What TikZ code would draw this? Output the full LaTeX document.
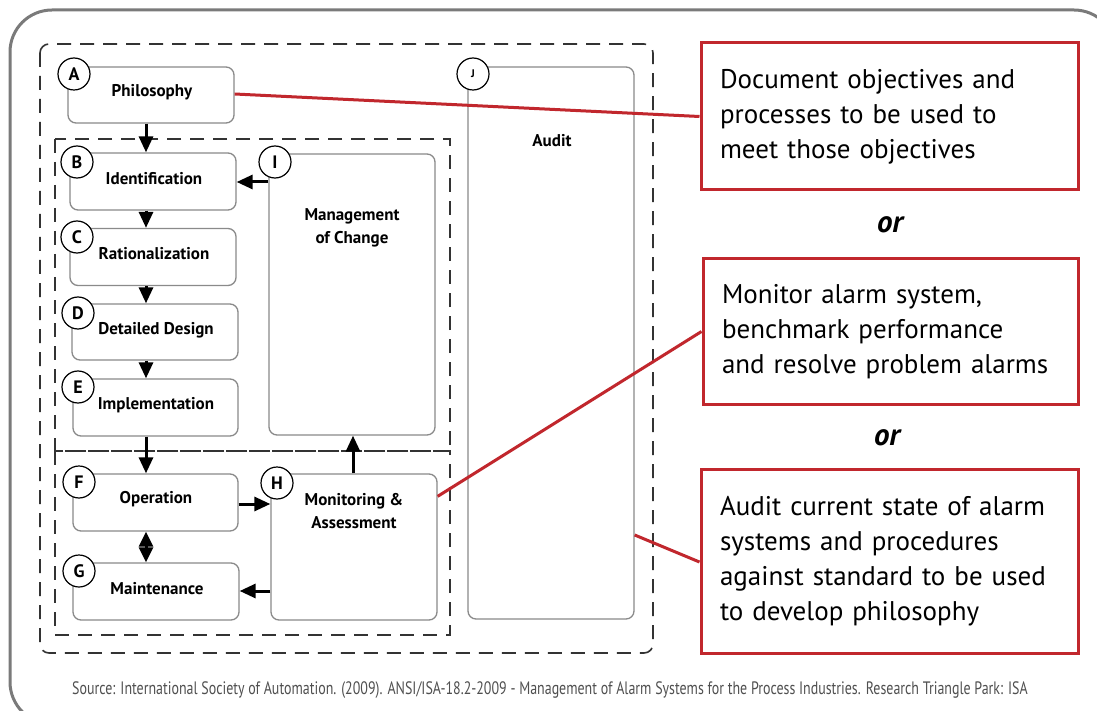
\documentclass[tikz,border=0pt]{standalone}
\usepackage{fontspec}
\usepackage{graphicx}
\setmainfont{PT Sans}
\usetikzlibrary{arrows.meta}
\definecolor{isared}{HTML}{C1272D}
\definecolor{framegray}{HTML}{7A7A7A}
\definecolor{boxgray}{HTML}{8A8A8A}
\definecolor{dashgray}{HTML}{333333}
\definecolor{srcgray}{HTML}{505050}
\tikzset{
  stage/.style={draw=boxgray, line width=1.3pt, rounded corners=8pt, fill=white, inner sep=0pt},
  lbl/.style={font=\fontsize{17}{23}\selectfont\bfseries, align=center, inner sep=0pt},
  badge/.style={circle, draw=black, line width=1.2pt, fill=white, minimum size=32pt, inner sep=0pt, font=\fontsize{18}{18}\selectfont\bfseries},
  dashbox/.style={draw=dashgray, line width=1.6pt, dash pattern=on 14pt off 9pt},
  arr/.style={line width=3pt, -{Triangle[length=16pt,width=14pt]}},
  dblarr/.style={line width=3pt, {Triangle[length=15pt,width=14pt]}-{Triangle[length=15pt,width=14pt]}},
  redbox/.style={draw=isared, line width=3pt, fill=white, inner sep=0pt, align=left, font=\fontsize{27}{35}\selectfont},
  redline/.style={draw=isared, line width=3pt},
  orlbl/.style={font=\fontsize{31}{32}\selectfont\bfseries\itshape, inner sep=0pt}
}
\begin{document}
\begin{tikzpicture}[x=1pt,y=-1pt]
\useasboundingbox (0,0) rectangle (1097,711);
\fill[white] (0,0) rectangle (1097,711);
% outer frame
\draw[framegray, line width=3pt, rounded corners=42pt] (10,10) rectangle (1116,724);
% dashed groups
\draw[dashbox, rounded corners=9pt] (40,44) rectangle (653,653);
\draw[dashbox] (55,139) rectangle (450,451);
\draw[dashbox] (55,451) rectangle (450,635);

% stage boxes
\node[stage, minimum width=166pt, minimum height=56pt] (A) at (151,95) {};
\node[stage, minimum width=166pt, minimum height=57pt] (B) at (153,181.5) {};
\node[stage, minimum width=166pt, minimum height=57pt] (C) at (153,257) {};
\node[stage, minimum width=166pt, minimum height=56pt] (D) at (155,332) {};
\node[stage, minimum width=165pt, minimum height=57pt] (E) at (155.5,407.5) {};
\node[stage, minimum width=165pt, minimum height=57pt] (F) at (155.5,502.5) {};
\node[stage, minimum width=166pt, minimum height=57pt] (G) at (156,591.5) {};
\node[stage, minimum width=166pt, minimum height=281pt] (I) at (352,294.5) {};
\node[stage, minimum width=166pt, minimum height=146pt] (H) at (354,547) {};
\node[stage, minimum width=166pt, minimum height=552pt] (J) at (551,343) {};

% labels
\node[lbl] (Al) at (152,92) {Philosophy};
\node[lbl] (Bl) at (154,179) {Identification};
\node[lbl] (Cl) at (154,254) {Rationalization};
\node[lbl] (Dl) at (156,330) {Detailed Design};
\node[lbl] (El) at (156,405) {Implementation};
\node[lbl] (Fl) at (156,499) {Operation};
\node[lbl] (Gl) at (157,589) {Maintenance};
\node[lbl] (Il) at (352,228) {Management\\of Change};
\node[lbl] (Hl) at (354,511) {Monitoring \&\\Assessment};
\node[lbl] (Jl) at (552,141) {Audit};

% badges
\node[badge] (Ab) at (74,74) {A};
\node[badge] (Bb) at (77,162) {B};
\node[badge] (Cb) at (77,237) {C};
\node[badge] (Db) at (78,313) {D};
\node[badge] (Eb) at (78,387) {E};
\node[badge] (Fb) at (79,482) {F};
\node[badge] (Gb) at (79,571) {G};
\node[badge] (Ib) at (275,162) {I};
\node[badge] (Hb) at (277,483) {H};
\node[badge, font=\fontsize{11}{12}\selectfont\bfseries] (Jb) at (473,74) {J};

% arrows
\coordinate (ax) at (146,0);
\coordinate (hx) at (353,0);
\draw[arr] (A.south -| ax) -- (B.north -| ax);
\draw[arr] (B.south -| ax) -- (C.north -| ax);
\draw[arr] (C.south -| ax) -- (D.north -| ax);
\draw[arr] (D.south -| ax) -- (E.north -| ax);
\draw[arr] (E.south -| ax) -- (F.north -| ax);
\draw[dblarr] (F.south -| ax) -- (G.north -| ax);
\coordinate (fy) at (0,504);
\coordinate (gy) at (0,591);
\coordinate (iy) at (0,182);
\draw[arr] (F.east |- fy) -- (H.west |- fy);
\draw[arr] (H.west |- gy) -- (G.east |- gy);
\draw[arr] (H.north -| hx) -- (I.south -| hx);
\draw[arr] (I.west |- iy) -- (B.east |- iy);

% red call-out boxes
\node[redbox, minimum width=377pt, minimum height=147pt, text width=339pt] (R1) at (889.5,116.5)
  {Document objectives and\\processes to be used to\\meet those objectives};
\node[redbox, minimum width=375pt, minimum height=145pt, text width=337pt] (R2) at (890.5,331.5)
  {Monitor alarm system,\\benchmark performance\\and resolve problem alarms};
\node[redbox, minimum width=377pt, minimum height=184pt, text width=339pt] (R3) at (889.5,561)
  {Audit current state of alarm\\systems and procedures\\against standard to be used\\to develop philosophy};
\node[orlbl] (or1) at (890,225) {or};
\node[orlbl] (or2) at (887,438) {or};

% red connectors
\draw[redline] ([yshift=1pt]A.east) -- (R1.west);
\draw[redline] ([yshift=-23pt]H.north east) -- (R2.west);
\draw[redline] ([yshift=-192pt]J.east) -- ([yshift=-1pt]R3.west);

% source
\node[inner sep=0pt, text=srcgray, font=\fontsize{18}{20}\selectfont] (src) at (550,690)
  {\scalebox{0.775}[1]{Source: International Society of Automation. (2009). ANSI/ISA-18.2-2009 - Management of Alarm Systems for the Process Industries. Research Triangle Park: ISA}};
\end{tikzpicture}
\end{document}
